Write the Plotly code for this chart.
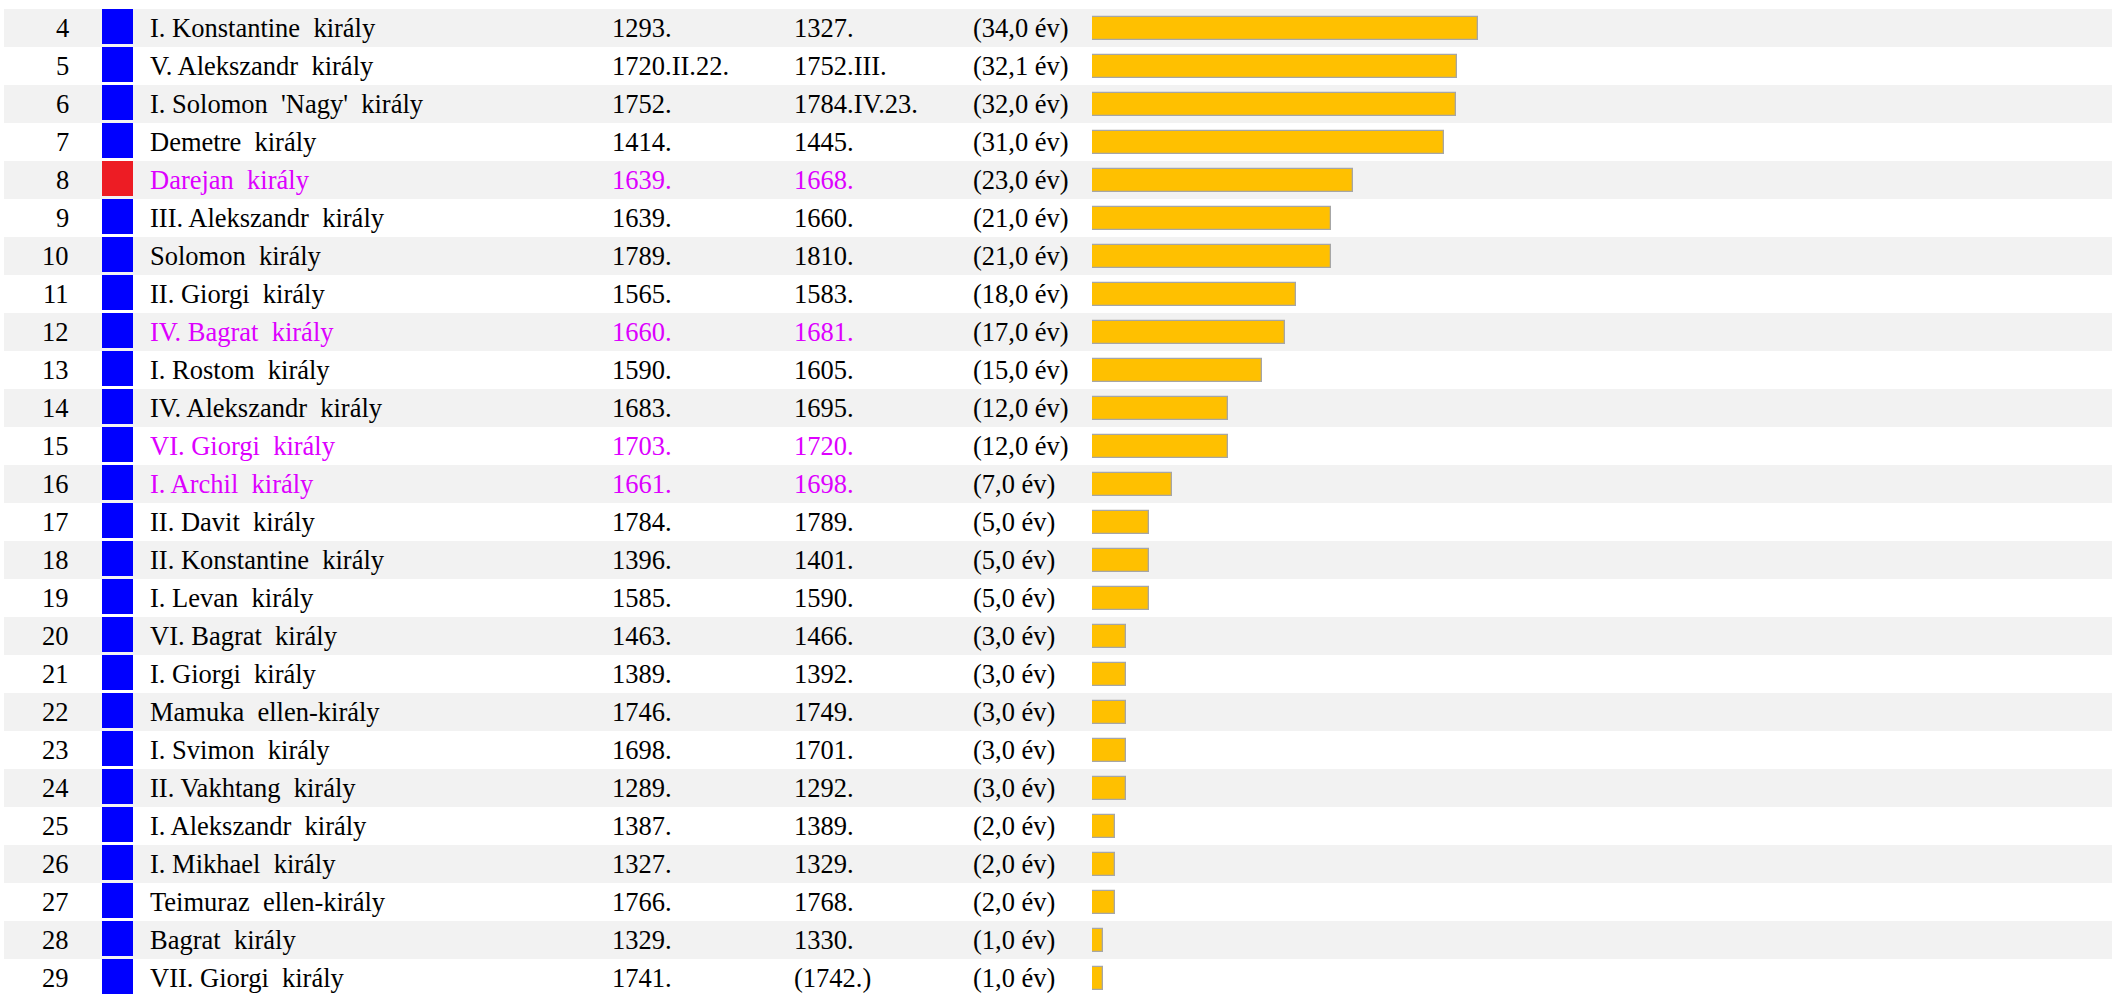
import plotly.graph_objects as go

# Reign table: rank, ruler, start, end, length in years
ranks = list(range(4, 30))
rulers = [
    "I. Konstantine  király", "V. Alekszandr  király", "I. Solomon  'Nagy'  király",
    "Demetre  király", "Darejan  király", "III. Alekszandr  király", "Solomon  király",
    "II. Giorgi  király", "IV. Bagrat  király", "I. Rostom  király",
    "IV. Alekszandr  király", "VI. Giorgi  király", "I. Archil  király",
    "II. Davit  király", "II. Konstantine  király", "I. Levan  király",
    "VI. Bagrat  király", "I. Giorgi  király", "Mamuka  ellen-király",
    "I. Svimon  király", "II. Vakhtang  király", "I. Alekszandr  király",
    "I. Mikhael  király", "Teimuraz  ellen-király", "Bagrat  király",
    "VII. Giorgi  király",
]
starts = [
    "1293.", "1720.II.22.", "1752.", "1414.", "1639.", "1639.", "1789.", "1565.",
    "1660.", "1590.", "1683.", "1703.", "1661.", "1784.", "1396.", "1585.",
    "1463.", "1389.", "1746.", "1698.", "1289.", "1387.", "1327.", "1766.",
    "1329.", "1741.",
]
ends = [
    "1327.", "1752.III.", "1784.IV.23.", "1445.", "1668.", "1660.", "1810.", "1583.",
    "1681.", "1605.", "1695.", "1720.", "1698.", "1789.", "1401.", "1590.",
    "1466.", "1392.", "1749.", "1701.", "1292.", "1389.", "1329.", "1768.",
    "1330.", "(1742.)",
]
years = [
    34.0, 32.1, 32.0, 31.0, 23.0, 21.0, 21.0, 18.0, 17.0, 15.0, 12.0, 12.0, 7.0,
    5.0, 5.0, 5.0, 3.0, 3.0, 3.0, 3.0, 3.0, 2.0, 2.0, 2.0, 1.0, 1.0,
]
# marker colour per row and whether the row text is highlighted
box_colors = ["blue"] * 26
box_colors[4] = "red"
highlight = [False] * 26
for k in (4, 8, 11, 12):
    highlight[k] = True

W, H = 2112, 994
ROW = 38.0
FIRST_CENTER = 28.0
BAR_X0 = 1092
PX_PER_YEAR = 11.36

COL_BLUE = "#0000ff"
COL_RED = "#ed1c24"
COL_MAGENTA = "#dd00ff"
COL_TEXT = "#000000"
STRIPE = "#f2f2f2"
FONT = "Liberation Serif, Times New Roman, serif"
FS = 26.5

idx = list(range(len(ranks)))


def px(x):
    return x / W


fig = go.Figure()
fig.add_trace(go.Bar(
    orientation="h",
    x=years,
    y=idx,
    width=23 / ROW,
    marker=dict(color="#ffc000", line=dict(color="#a6a6a6", width=1.3)),
    hoverinfo="skip",
))

shapes = []
annotations = []
for i in idx:
    if ranks[i] % 2 == 0:
        shapes.append(dict(type="rect", xref="paper", yref="y", x0=px(4), x1=1,
                           y0=i - 0.5, y1=i + 0.5, fillcolor=STRIPE,
                           line=dict(width=0), layer="below"))
    shapes.append(dict(type="rect", xref="paper", yref="y", x0=px(102), x1=px(133),
                       y0=i - 0.5, y1=i - 0.5 + 35 / ROW,
                       fillcolor=COL_RED if box_colors[i] == "red" else COL_BLUE,
                       line=dict(width=0), layer="above"))
    tc = COL_MAGENTA if highlight[i] else COL_TEXT
    common = dict(xref="paper", yref="y", y=i, showarrow=False, yanchor="middle",
                  borderpad=0)
    annotations.append(dict(x=px(70), text=str(ranks[i]), xanchor="right",
                            font=dict(family=FONT, size=FS, color=COL_TEXT), **common))
    for xpos, txt in ((149, rulers[i]), (611, starts[i]), (793, ends[i])):
        annotations.append(dict(x=px(xpos), text=txt.replace("  ", " \u00a0"),
                                xanchor="left",
                                font=dict(family=FONT, size=FS, color=tc), **common))
    annotations.append(dict(x=px(972), text=f"({years[i]:.1f} év)".replace(".", ","),
                            xanchor="left",
                            font=dict(family=FONT, size=FS, color=COL_TEXT), **common))

fig.update_layout(
    width=W, height=H,
    margin=dict(l=0, r=0, t=0, b=0),
    paper_bgcolor="white", plot_bgcolor="rgba(0,0,0,0)",
    showlegend=False,
    xaxis=dict(domain=[px(BAR_X0), 1], range=[0, (W - BAR_X0) / PX_PER_YEAR],
               visible=False, fixedrange=True),
    yaxis=dict(range=[(H - FIRST_CENTER) / ROW, -FIRST_CENTER / ROW],
               visible=False, fixedrange=True),
    shapes=shapes,
    annotations=annotations,
    bargap=0,
)

fig.write_html("out.html", config={"displayModeBar": False})
